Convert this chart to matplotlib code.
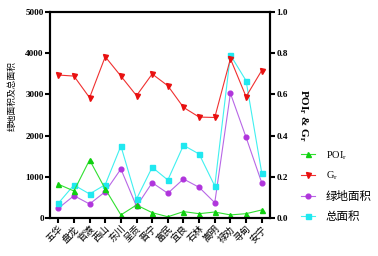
import numpy as np
import matplotlib.pyplot as plt

# data
districts = ['五华', '盘龙', '官渡', '西山', '东川', '呈贡', '晋宁', '富民', '宜良',
             '石林', '嵩明', '禄劝', '寻甸', '安宁']
poi_r = [0.164, 0.131, 0.282, 0.141, 0.015, 0.063, 0.026, 0.006, 0.031,
         0.021, 0.029, 0.015, 0.021, 0.039]
g_r = [0.694, 0.689, 0.584, 0.783, 0.689, 0.594, 0.699, 0.642, 0.537,
       0.490, 0.488, 0.773, 0.589, 0.716]
green_area = [235, 541, 340, 638, 1189, 284, 857, 600, 947, 745, 371, 3026, 1959, 857]
total_area = [357, 801, 583, 809, 1748, 461, 1231, 922, 1765, 1553, 777, 3956, 3333, 1100]

cjk = ['Noto Sans CJK SC', 'DejaVu Sans']
serif = 'Liberation Serif'

fig = plt.figure(figsize=(3.78, 2.56), dpi=100)
ax = fig.add_axes([50 / 378, 1 - 218 / 256, 220 / 378, 206 / 256])
ax2 = ax.twinx()

x = np.arange(len(districts))
l3, = ax.plot(x, green_area, color='#b867e6', lw=0.8, marker='o', ms=3.4,
              mfc='#b035dc', mec='#b035dc', label='绿地面积')
l4, = ax.plot(x, total_area, color='#40f0f0', lw=0.8, marker='s', ms=3.6,
              mfc='#20e8f0', mec='#20e8f0', label='总面积')
l1, = ax2.plot(x, poi_r, color='#30e030', lw=0.8, marker='^', ms=3.6,
               mfc='#10d010', mec='#10d010', label=r'POI$_\mathregular{r}$')
l2, = ax2.plot(x, g_r, color='#f03030', lw=0.8, marker='v', ms=3.6,
               mfc='#e81010', mec='#e81010', label=r'G$_\mathregular{r}$')

ax.set_xlim(-0.53, 13.53)
ax.set_ylim(0, 5000)
ax2.set_ylim(0, 1.0)
ax.set_yticks([0, 1000, 2000, 3000, 4000, 5000])
ax2.set_yticks([0, 0.2, 0.4, 0.6, 0.8, 1.0])
ax2.set_yticklabels(['0.0', '0.2', '0.4', '0.6', '0.8', '1.0'])
ax.set_xticks(x)
ax.set_xticklabels(districts, rotation=45, ha='right', rotation_mode='anchor',
                   family=cjk, fontsize=6.8)

for a in (ax, ax2):
    for s in a.spines.values():
        s.set_linewidth(1.5)
    a.tick_params(width=1.5, length=3.5, pad=1)
for lab in ax.get_yticklabels() + ax2.get_yticklabels():
    lab.set_family(serif)
    lab.set_weight('bold')
    lab.set_fontsize(6.6)

ax.set_ylabel('绿地面积及总面积', family=cjk, fontsize=6.3)
ax.yaxis.set_label_coords(-0.15, 0.59)
ax2.set_ylabel(r'POI$_\mathregular{r}$ & G$_\mathregular{r}$', family=serif,
               weight='bold', fontsize=8, rotation=-90, labelpad=16)

leg = ax.legend(handles=[l1, l2, l3, l4], loc='lower left',
                bbox_to_anchor=(1.12, -0.045), frameon=False, borderaxespad=0,
                handlelength=1.4, handletextpad=1.0, labelspacing=0.72,
                prop={'family': [serif, 'Noto Sans CJK SC'], 'size': 7.5})
for t in leg.get_texts()[2:]:
    t.set_family(cjk)
    t.set_fontsize(8.3)

fig.savefig('out.png', dpi=100)
